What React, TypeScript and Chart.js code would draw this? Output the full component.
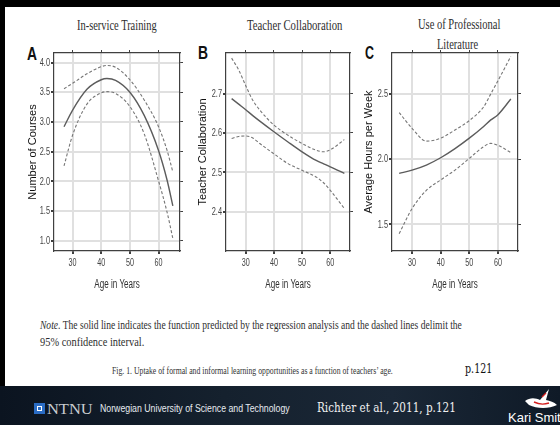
import React, { useEffect, useLayoutEffect, useRef, useState } from 'react';
import { Chart, registerables } from 'chart.js';
Chart.register(...registerables);

// ---------------- data ----------------
const xTicks = [30, 40, 50, 60];

const agesA = [27, 30, 35, 40, 42, 45, 50, 55, 60, 63, 65];
const fitA = [2.92, 3.2, 3.55, 3.71, 3.73, 3.7, 3.5, 3.11, 2.52, 2.02, 1.59];
const upperA = [3.56, 3.65, 3.81, 3.93, 3.95, 3.92, 3.71, 3.37, 2.92, 2.52, 2.16];
const lowerA = [2.26, 2.78, 3.3, 3.49, 3.51, 3.48, 3.26, 2.8, 2.01, 1.48, 1.04];
const yTicksA = [1.0, 1.5, 2.0, 2.5, 3.0, 3.5, 4.0];

const agesB = [25, 27.5, 30, 32.5, 35, 40, 45, 50, 55, 57.5, 60, 65];
const fitB = [2.687, 2.673, 2.659, 2.644, 2.63, 2.603, 2.577, 2.552, 2.53, 2.522, 2.514, 2.497];
const upperB = [2.79, 2.76, 2.72, 2.683, 2.658, 2.62, 2.594, 2.573, 2.556, 2.552, 2.557, 2.583];
const lowerB = [2.586, 2.591, 2.592, 2.587, 2.573, 2.547, 2.522, 2.505, 2.488, 2.474, 2.454, 2.408];
const yTicksB = [2.4, 2.5, 2.6, 2.7];

const agesC = [25.5, 30, 35, 40, 45, 50, 55, 57.5, 60, 64.5];
const fitC = [1.89, 1.915, 1.954, 2.01, 2.08, 2.16, 2.25, 2.3, 2.34, 2.46];
const upperC = [2.356, 2.236, 2.137, 2.16, 2.223, 2.295, 2.4, 2.5, 2.6, 2.787];
const lowerC = [1.428, 1.62, 1.76, 1.84, 1.915, 2.005, 2.095, 2.12, 2.105, 2.05];
const yTicksC = [1.5, 2.0, 2.5];

const panelTitles = ['In-service Training', 'Teacher Collaboration', 'Use of Professional', 'Literature'];
const yTitles = ['Number of Courses', 'Teacher Collaboration', 'Average Hours per Week'];
const xTitle = 'Age in Years';

// ---------------- chart panel ----------------
type Box = { cl: number; pl: number; pr: number; pt: number; pb: number; cb: number; tp: number };
type PanelProps = {
  ages: number[]; fit: number[]; upper: number[]; lower: number[];
  xMin: number; xMax: number; yMin: number; yMax: number; yTicks: number[];
  yTitle: string; box: Box;
};

const SANS = '"Liberation Sans", Arial, sans-serif';
const GRID = '#e0e0e0';

function drawCondensed(ctx: CanvasRenderingContext2D, text: string, x: number, y: number, sx: number) {
  ctx.save();
  ctx.translate(x, y);
  ctx.scale(sx, 1);
  ctx.fillText(text, 0, 0);
  ctx.restore();
}

const condensedLabels = {
  id: 'condensedLabels',
  afterDraw(chart: any) {
    const ctx: CanvasRenderingContext2D = chart.ctx;
    const xs = chart.scales.x;
    const ys = chart.scales.y;
    const area = chart.chartArea;
    ctx.save();
    ctx.fillStyle = '#444';
    ctx.font = `10px ${SANS}`;
    ctx.textBaseline = 'middle';
    ctx.textAlign = 'center';
    xs.ticks.forEach((t: any) => {
      drawCondensed(ctx, String(t.value), xs.getPixelForValue(t.value), area.bottom + 12.5, 0.72);
    });
    ctx.textAlign = 'right';
    ys.ticks.forEach((t: any) => {
      drawCondensed(ctx, Number(t.value).toFixed(1), area.left - 4, ys.getPixelForValue(t.value) + 0.5, 0.74);
    });
    ctx.fillStyle = '#2e2e2e';
    ctx.font = `12px ${SANS}`;
    ctx.textAlign = 'center';
    drawCondensed(ctx, xTitle, (area.left + area.right) / 2, area.bottom + 34, 0.67);
    ctx.restore();
  },
};

function Panel(p: PanelProps) {
  const ref = useRef<HTMLCanvasElement>(null);
  const { box } = p;
  const ct = box.pt - 4;
  const cr = box.pr + 6;
  const W = cr - box.cl;
  const H = box.cb - ct;
  useEffect(() => {
    if (!ref.current) return;
    const ds = (vals: number[], dashed: boolean) => ({
      data: p.ages.map((a, i) => ({ x: a, y: vals[i] })),
      borderColor: dashed ? '#767676' : '#5c5c5c',
      borderWidth: dashed ? 1.1 : 1.4,
      borderDash: dashed ? [3, 2] : [],
      pointRadius: 0,
      fill: false,
      cubicInterpolationMode: 'monotone',
      xAxisID: 'x',
      yAxisID: 'y',
    });
    const setTicks = (vals: number[]) => (s: any) => { s.ticks = vals.map((v) => ({ value: v })); };
    const borderOpt = { display: true, color: '#404040', width: 1.2 };
    const chart = new Chart(ref.current, {
      type: 'line',
      data: { datasets: [ds(p.fit, false), ds(p.upper, true), ds(p.lower, true)] as any },
      plugins: [condensedLabels],
      options: {
        animation: false,
        responsive: false,
        devicePixelRatio: 1,
        layout: { padding: 0 },
        plugins: { legend: { display: false }, tooltip: { enabled: false } },
        scales: {
          x: {
            type: 'linear', position: 'bottom', min: p.xMin, max: p.xMax, bounds: 'data',
            afterBuildTicks: setTicks(xTicks),
            afterFit: (s: any) => { s.height = box.cb - box.pb; },
            grid: { display: true, drawOnChartArea: true, color: GRID, tickColor: '#404040', tickLength: 3, lineWidth: 2 },
            border: borderOpt,
            ticks: { display: false },
          },
          x2: {
            type: 'linear', position: 'top', min: p.xMin, max: p.xMax, bounds: 'data',
            afterBuildTicks: setTicks(xTicks),
            afterFit: (s: any) => { s.height = box.pt - ct; },
            grid: { drawOnChartArea: false, tickColor: '#404040', tickLength: 3 },
            border: borderOpt,
            ticks: { display: false },
          },
          y: {
            type: 'linear', position: 'left', min: p.yMin, max: p.yMax, bounds: 'data',
            afterBuildTicks: setTicks(p.yTicks),
            afterFit: (s: any) => { s.width = box.pl - box.cl; },
            grid: { display: true, drawOnChartArea: true, color: GRID, tickColor: '#404040', tickLength: 3, lineWidth: 2 },
            border: borderOpt,
            ticks: { display: false },
            title: { display: true, text: p.yTitle, color: '#111', font: { family: SANS, size: 11 }, padding: { top: box.tp, bottom: 0 } },
          },
          y2: {
            type: 'linear', position: 'right', min: p.yMin, max: p.yMax, bounds: 'data',
            afterBuildTicks: setTicks(p.yTicks),
            afterFit: (s: any) => { s.width = cr - box.pr; },
            grid: { drawOnChartArea: false, tickColor: '#404040', tickLength: 3 },
            border: borderOpt,
            ticks: { display: false },
          },
        },
      } as any,
    });
    return () => chart.destroy();
  }, []);
  return (
    <canvas
      ref={ref}
      width={W}
      height={H}
      style={{ position: 'absolute', left: box.cl, top: ct, width: W, height: H }}
    />
  );
}

// ---------------- text helper ----------------
function FitText({ x, y, width, style, children }: { x: number; y: number; width?: number; style?: any; children: any }) {
  const ref = useRef<HTMLSpanElement>(null);
  const [s, setS] = useState(1);
  useLayoutEffect(() => {
    if (ref.current && width) {
      const w = ref.current.offsetWidth;
      if (w > 0) setS(width / w);
    }
  }, [width]);
  return (
    <span
      ref={ref}
      style={{
        position: 'absolute', left: x, top: y, whiteSpace: 'nowrap', lineHeight: 1,
        transformOrigin: '0 50%', transform: `translateY(-50%) scaleX(${s})`, ...style,
      }}
    >
      {children}
    </span>
  );
}

const serif = '"Liberation Serif", "Times New Roman", serif';
const slab = '"DejaVu Serif", serif';

export default function App() {
  const titleStyle = { fontFamily: serif, fontSize: 15, color: '#2e2e2e' };
  const letterStyle = { fontFamily: SANS, fontSize: 18, fontWeight: 700, color: '#111' };
  return (
    <div style={{ position: 'fixed', left: 0, top: 0, width: 560, height: 425, overflow: 'hidden', background: '#fff' }}>
      {/* frame */}
      <div style={{ position: 'absolute', left: 0, top: 0, width: 560, height: 7, background: '#000' }} />
      <div style={{ position: 'absolute', left: 0, top: 0, width: 5, height: 386, background: '#000' }} />

      {/* panel titles */}
      <FitText x={77} y={24.5} width={80} style={titleStyle}>{panelTitles[0]}</FitText>
      <FitText x={247} y={24.5} width={95} style={titleStyle}>{panelTitles[1]}</FitText>
      <FitText x={418} y={24} width={82} style={titleStyle}>{panelTitles[2]}</FitText>
      <FitText x={437} y={43.5} width={41} style={titleStyle}>{panelTitles[3]}</FitText>

      {/* panel letters */}
      <FitText x={27} y={54} width={10} style={letterStyle}>A</FitText>
      <FitText x={198} y={53} width={10} style={letterStyle}>B</FitText>
      <FitText x={365} y={53} width={9} style={letterStyle}>C</FitText>

      <Panel ages={agesA} fit={fitA} upper={upperA} lower={lowerA} xMin={23.5} xMax={67.5} yMin={0.83} yMax={4.16}
        yTicks={yTicksA} yTitle={yTitles[0]} box={{ cl: 22, pl: 54, pr: 180, pt: 53, pb: 251, cb: 296, tp: 4.4 }} />
      <Panel ages={agesB} fit={fitB} upper={upperB} lower={lowerB} xMin={23} xMax={67} yMin={2.3} yMax={2.803}
        yTicks={yTicksB} yTitle={yTitles[1]} box={{ cl: 190, pl: 226, pr: 350, pt: 53, pb: 251, cb: 296, tp: 6.4 }} />
      <Panel ages={agesC} fit={fitC} upper={upperC} lower={lowerC} xMin={23} xMax={67} yMin={1.295} yMax={2.813}
        yTicks={yTicksC} yTitle={yTitles[2]} box={{ cl: 356, pl: 392, pr: 518, pt: 53, pb: 251, cb: 296, tp: 6.4 }} />

      {/* note */}
      <FitText x={40} y={323.5} width={422} style={{ fontFamily: serif, fontSize: 13, color: '#2e2e2e' }}>
        <i>Note</i>. The solid line indicates the function predicted by the regression analysis and the dashed lines delimit the
      </FitText>
      <FitText x={40} y={340.5} width={104} style={{ fontFamily: serif, fontSize: 13, color: '#2e2e2e' }}>
        95% confidence interval.
      </FitText>
      <FitText x={112} y={371} width={281} style={{ fontFamily: serif, fontSize: 10, color: '#333' }}>
        Fig. 1. Uptake of formal and informal learning opportunities as a function of teachers’ age.
      </FitText>
      <FitText x={465} y={368.5} width={27} style={{ fontFamily: slab, fontSize: 12, color: '#111' }}>p.121</FitText>

      {/* footer */}
      <div style={{ position: 'absolute', left: 0, top: 386, width: 560, height: 39, background: 'linear-gradient(90deg, #0b1420 0%, #15212e 40%, #1a2736 70%, #0f1a27 100%)' }} />
      <div style={{ position: 'absolute', left: 34, top: 403, width: 11, height: 11, background: '#2a6cc4' }}>
        <div style={{ position: 'absolute', left: 3, top: 3, width: 3, height: 3, border: '1px solid #fff' }} />
      </div>
      <FitText x={47} y={408.5} width={46} style={{ fontFamily: serif, fontSize: 15, color: '#c9ccd0' }}>NTNU</FitText>
      <FitText x={100} y={409} width={190} style={{ fontFamily: SANS, fontSize: 10, color: '#e6ebf0' }}>
        Norwegian University of Science and Technology
      </FitText>
      <FitText x={317} y={406.5} width={139} style={{ fontFamily: slab, fontSize: 13, color: '#f0f0f0' }}>
        Richter et al., 2011, p.121
      </FitText>
      <svg style={{ position: 'absolute', left: 522, top: 387, width: 36, height: 26 }} viewBox="0 0 36 26">
        <path d="M3 14 C8 10 14 11 18 13 L27 2 L24 13 C28 14 32 15 35 18 C27 22 15 22 7 18 Z" fill="#ffffff" />
        <path d="M12 15 C16 17 21 18 27 16" stroke="#d42020" strokeWidth="1.4" fill="none" />
        <path d="M20 10 L24 6" stroke="#d42020" strokeWidth="1.2" fill="none" />
      </svg>
      <FitText x={508} y={416.5} style={{ fontFamily: SANS, fontSize: 13, color: '#ffffff' }}>Kari Smith</FitText>
    </div>
  );
}
